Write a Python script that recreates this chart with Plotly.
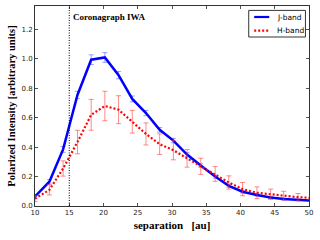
import plotly.graph_objects as go

# separation [au]
sep = [10.0, 12.1, 14.1, 16.2, 18.2, 20.2, 22.2, 24.2, 26.2, 28.2, 30.2,
       32.2, 34.2, 36.3, 38.3, 40.3, 42.4, 44.4, 46.3, 48.4, 50.4]

j_band = [0.065, 0.165, 0.385, 0.755, 0.995, 1.01, 0.89, 0.728, 0.632, 0.518, 0.445,
          0.35, 0.275, 0.2, 0.137, 0.097, 0.075, 0.058, 0.048, 0.041, 0.036]
j_err = [0.012, 0.015, 0.02, 0.025, 0.033, 0.033, 0.025, 0.02, 0.018, 0.016, 0.015,
         0.013, 0.012, 0.011, 0.01, 0.009, 0.008, 0.007, 0.007, 0.006, 0.006]

h_band = [0.05, 0.11, 0.255, 0.435, 0.62, 0.68, 0.655, 0.573, 0.49, 0.42, 0.38,
          0.324, 0.27, 0.218, 0.16, 0.115, 0.09, 0.08, 0.07, 0.06, 0.055]
h_err = [0.02, 0.035, 0.052, 0.08, 0.105, 0.1, 0.095, 0.077, 0.075, 0.07, 0.066,
         0.06, 0.055, 0.05, 0.045, 0.045, 0.04, 0.035, 0.03, 0.025, 0.02]

iwa = 15.0
series_names = ["J-band", "H-band"]
series_colors = ["#0000ff", "#ff0000"]
series_dash = ["solid", "2px,2px"]

fig = go.Figure()
fig.add_trace(go.Scatter(
    x=sep, y=j_band, mode="lines", name=series_names[0],
    line=dict(color=series_colors[0], width=2.5, dash=series_dash[0]),
    error_y=dict(type="data", array=j_err, color="rgba(80,80,255,0.55)", thickness=1, width=2.5),
))
fig.add_trace(go.Scatter(
    x=sep, y=h_band, mode="lines", name=series_names[1],
    line=dict(color=series_colors[1], width=2.2, dash=series_dash[1]),
    error_y=dict(type="data", array=h_err, color="rgba(255,60,60,0.6)", thickness=1, width=2.5),
))

fig.add_shape(type="line", x0=iwa, x1=iwa, y0=0, y1=1, xref="x", yref="paper",
              line=dict(color="black", width=1, dash="1px,1.5px"))
fig.add_annotation(x=iwa, y=0.945, xref="x", yref="paper", text="<b>Coronagraph IWA</b>",
                   showarrow=False, xanchor="left", yanchor="middle", xshift=2,
                   font=dict(family="Liberation Serif", size=9, color="black"))

# compact legend box (top right)
fig.add_shape(type="rect", xref="paper", yref="paper", x0=0.78, x1=0.987, y0=0.845, y1=0.978,
              line=dict(color="#333", width=1), fillcolor="white", layer="above")
for i, (nm, col, ds) in enumerate(zip(series_names, series_colors, series_dash)):
    yy = 0.945 - i * 0.068
    fig.add_shape(type="line", xref="paper", yref="paper", x0=0.8, x1=0.855, y0=yy, y1=yy,
                  line=dict(color=col, width=2.2, dash=ds), layer="above")
    fig.add_annotation(x=0.875, y=yy, xref="paper", yref="paper", text=nm, showarrow=False,
                       xanchor="left", yanchor="middle",
                       font=dict(family="DejaVu Sans", size=7.5, color="black"))

axis_common = dict(showgrid=False, zeroline=False, showline=True, linecolor="#333",
                   linewidth=1, mirror="ticks", ticks="inside", ticklen=3,
                   tickcolor="#555", tickfont=dict(family="DejaVu Sans", size=7, color="#222"))
fig.update_xaxes(range=[10, 50], dtick=5, **axis_common,
                 title=dict(text="<b>separation   [au]</b>", standoff=4,
                            font=dict(family="Liberation Serif", size=11, color="black")))
fig.update_yaxes(range=[0, 1.36], dtick=0.2, tickformat=".1f", **axis_common,
                 title=dict(text="<b>Polarized Intensity [arbitrary units]</b>", standoff=3,
                            font=dict(family="Liberation Serif", size=10.5, color="black")))

fig.update_layout(
    width=320, height=240, margin=dict(l=35, r=11, t=6, b=34),
    paper_bgcolor="white", plot_bgcolor="white",
    showlegend=False,
)

fig.write_html("out.html", config={"displayModeBar": False},
               post_script="document.body.style.margin='0';")
